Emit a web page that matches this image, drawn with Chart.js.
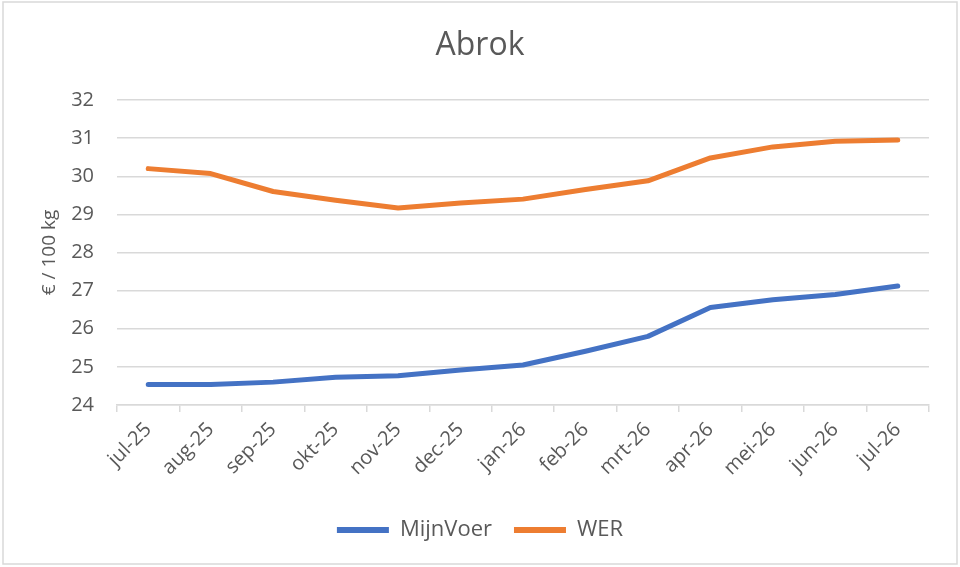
<!DOCTYPE html>
<html>
<head>
<meta charset="utf-8">
<script src="https://cdn.jsdelivr.net/npm/chart.js@4"></script>
<style>
  html, body { margin: 0; padding: 0; background: #fff; }
  #wrap { position: absolute; left: 0; top: 0; width: 960px; height: 567px; }
</style>
</head>
<body>
<div id="wrap"><canvas id="grafico" width="960" height="567"></canvas></div>
<script>
// maanden (categorieen op de x-as)
const maanden = ['jul-25', 'aug-25', 'sep-25', 'okt-25', 'nov-25', 'dec-25',
  'jan-26', 'feb-26', 'mrt-26', 'apr-26', 'mei-26', 'jun-26', 'jul-26']
// prijzen in euro per 100 kg
const mijnVoer = [24.54, 24.54, 24.6, 24.73, 24.77, 24.92, 25.05, 25.41, 25.8, 26.56, 26.76, 26.9, 27.12]
const wer = [30.2, 30.07, 29.6, 29.37, 29.17, 29.3, 29.4, 29.65, 29.88, 30.48, 30.77, 30.92, 30.95]
const yMin = 24
const yMax = 32

const grijs = '#595959'
const lijnGrijs = '#d9d9d9'
Chart.defaults.font.family = "'Open Sans', sans-serif"
Chart.defaults.color = grijs

// kader rond de hele grafiek
const kader = {
  id: 'kader',
  beforeDraw: (chart) => {
    const ctx = chart.ctx
    ctx.save()
    ctx.fillStyle = '#fff'
    ctx.fillRect(0, 0, chart.width, chart.height)
    ctx.strokeStyle = lijnGrijs
    ctx.lineWidth = 1.5
    ctx.strokeRect(3, 2, 954, 562)
    ctx.restore()
  },
}

// titel en legenda midden op het canvas zetten i.p.v. midden boven de plotbreedte
const centreren = {
  id: 'centreren',
  afterLayout: (chart) => {
    const shift = (chart.width - (chart.legend.right - chart.legend.left)) / 2 - chart.legend.left
    chart.legend.left += shift
    chart.legend.right += shift
    chart.titleBlock.left += shift
    chart.titleBlock.right += shift
  },
}

const contenedor = document.getElementById('grafico')
const grafico = new Chart(contenedor, {
  type: 'line',
  data: {
    labels: maanden,
    datasets: [
      {
        label: 'MijnVoer',
        data: mijnVoer,
        borderColor: '#4472C4',
        backgroundColor: '#4472C4',
        borderWidth: 5,
      },
      {
        label: 'WER',
        data: wer,
        borderColor: '#ED7D31',
        backgroundColor: '#ED7D31',
        borderWidth: 5,
      },
    ],
  },
  options: {
    responsive: false,
    animation: false,
    devicePixelRatio: 1,
    elements: {
      point: { radius: 0, hoverRadius: 0 },
      line: { tension: 0, borderCapStyle: 'round', borderJoinStyle: 'round' },
    },
    layout: {
      padding: { left: 0, right: 31, top: 0, bottom: 16 },
    },
    scales: {
      x: {
        offset: true,
        grid: {
          offset: true,
          drawOnChartArea: false,
          drawTicks: true,
          tickLength: 7,
          tickColor: lijnGrijs,
          lineWidth: 1.5,
        },
        border: { color: lijnGrijs, width: 1.5 },
        ticks: {
          maxRotation: 45,
          minRotation: 45,
          font: { size: 20 },
          color: grijs,
          padding: 6,
        },
        afterFit: (scale) => { scale.height = 92 },
      },
      y: {
        min: yMin,
        max: yMax,
        ticks: { stepSize: 1, font: { size: 20 }, color: grijs, padding: 23 },
        grid: { color: lijnGrijs, lineWidth: 1.5, drawTicks: false },
        border: { display: false },
        title: {
          display: true,
          text: '€ / 100 kg',
          font: { size: 19 },
          color: grijs,
          padding: { top: 38, bottom: 0 },
        },
        afterFit: (scale) => { scale.width = 117 },
      },
    },
    plugins: {
      tooltip: { enabled: false },
      title: {
        display: true,
        text: 'Abrok',
        color: grijs,
        font: { size: 32, weight: 'normal' },
        padding: { top: 27, bottom: 34.6 },
      },
      legend: {
        position: 'bottom',
        labels: {
          font: { size: 22 },
          color: grijs,
          boxWidth: 52,
          boxHeight: 6,
          padding: 22,
          generateLabels: (chart) => chart.data.datasets.map((ds, i) => ({
            text: ds.label,
            fillStyle: ds.borderColor,
            strokeStyle: ds.borderColor,
            lineWidth: 0,
            fontColor: grijs,
            datasetIndex: i,
            hidden: false,
          })),
        },
      },
    },
  },
  plugins: [kader, centreren],
})
</script>
</body>
</html>
